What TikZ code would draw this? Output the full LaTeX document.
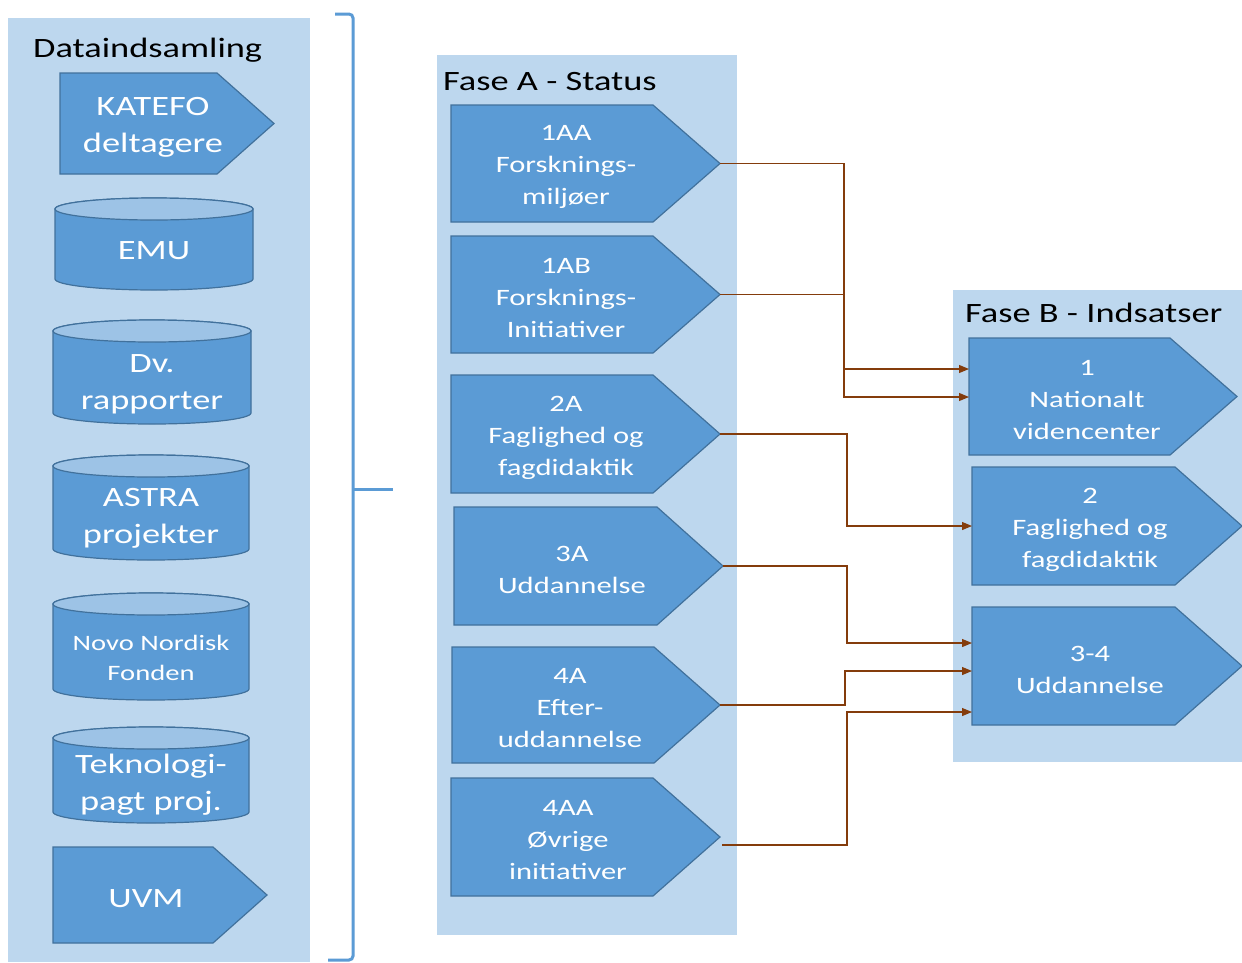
\documentclass[tikz,border=0pt]{standalone}
\usepackage{fontspec}
\setmainfont{Carlito}[FakeStretch=1.3]
\usetikzlibrary{arrows.meta,calc}
\definecolor{panelc}{HTML}{BDD7EE}
\definecolor{shapec}{HTML}{5B9BD5}
\definecolor{shapeb}{HTML}{41719C}
\definecolor{topc}{HTML}{9DC3E6}
\definecolor{connc}{RGB}{132,60,12}
\definecolor{brackc}{HTML}{5B9BD5}
\tikzset{
  panel/.style={fill=panelc, draw=none},
  shp/.style={fill=shapec, draw=shapeb, line width=1.2pt},
  shptop/.style={fill=topc, draw=shapeb, line width=1.2pt},
  boxtxt/.style={text=white, align=center, inner sep=0pt, yshift=-3.5pt},
  bigtxt/.style={boxtxt, font=\fontsize{28}{37}\selectfont},
  smalltxt/.style={boxtxt, font=\fontsize{22}{30}\selectfont},
  midtxt/.style={boxtxt, font=\fontsize{23.5}{32}\selectfont},
  ttl/.style={text=black, inner sep=0pt, anchor=base west, font=\fontsize{28}{34}\selectfont},
  conn/.style={draw=connc, line width=1.1pt, -{Triangle[length=10pt,width=8pt]}},
  brack/.style={draw=brackc, line width=3pt, rounded corners=4pt}
}
% pentagon: name, x1, y1, xbody, xtip, y2, textx, style, text
\newcommand\pent[9]{%
  \filldraw[shp] (#2,#3) -- (#4,#3) -- (#5,{(#3+#6)/2}) -- (#4,#6) -- (#2,#6) -- cycle;
  \coordinate (#1-tip) at (#5,{(#3+#6)/2});
  \coordinate (#1-in) at (#2,{(#3+#6)/2});
  \node[#8] (#1) at (#7,{(#3+#6)/2}) {#9};
}
% cylinder: name, x1, x2, ytop, ybot, textx, texty, style, text
\newcommand\cyl[9]{%
  \pgfmathsetmacro\cylcx{(#2+#3)/2}
  \pgfmathsetmacro\cylrx{(#3-#2)/2}
  \filldraw[shp] (#2,#4+11) -- (#2,#5-11) arc[start angle=180,end angle=0,x radius=\cylrx,y radius=11]
     -- (#3,#4+11) arc[start angle=0,end angle=-180,x radius=\cylrx,y radius=11] -- cycle;
  \filldraw[shptop] (\cylcx,#4+11) ellipse[x radius=\cylrx,y radius=11];
  \node[#8] (#1) at (#6,#7) {#9};
}
\begin{document}
\begin{tikzpicture}[x=1pt,y=-1pt]
\useasboundingbox (0,0) rectangle (1242,962);
\fill[white] (0,0) rectangle (1242,962);
% panels
\fill[panel] (8,18) rectangle (310,962);
\fill[panel] (437,55) rectangle (737,935);
\fill[panel] (953,290) rectangle (1242,762);
% titles
\node[ttl] (t1) at (33,57) {Dataindsamling};
\node[ttl] (t2) at (443,90) {Fase A - Status};
\node[ttl] (t3) at (965,322) {Fase B - Indsatser};
% left column
\pent{kat}{60}{73}{217}{274}{174}{153}{bigtxt}{KATEFO\\deltagere}
\cyl{emu}{55}{253}{198}{290}{154}{247}{bigtxt}{EMU}
\cyl{dv}{53}{251}{320}{424}{152}{381}{bigtxt}{Dv.\\rapporter}
\cyl{astra}{53}{249}{455}{560}{151}{515}{bigtxt}{ASTRA\\projekter}
\cyl{novo}{53}{249}{593}{700}{151}{654}{smalltxt}{Novo Nordisk\\Fonden}
\cyl{tek}{53}{249}{727}{823}{151}{781}{bigtxt}{Teknologi-\\pagt proj.}
\pent{uvm}{53}{847}{213}{267}{943}{146}{bigtxt}{UVM}
% bracket
\draw[brack] (335,14) -- (353,14) -- (353,960) -- (328,960);
\draw[brack] (353,489) -- (393,489);
% middle column
\pent{aa}{451}{105}{653}{720}{222}{566}{midtxt}{1AA\\Forsknings-\\miljøer}
\pent{ab}{451}{236}{653}{720}{353}{566}{midtxt}{1AB\\Forsknings-\\Initiativer}
\pent{atwo}{451}{375}{653}{720}{493}{566}{midtxt}{2A\\Faglighed og\\fagdidaktik}
\pent{athree}{454}{507}{657}{723}{625}{572}{midtxt}{3A\\Uddannelse}
\pent{afour}{452}{647}{654}{720}{763}{570}{midtxt}{4A\\Efter-\\uddannelse}
\pent{afourb}{451}{778}{653}{720}{896}{568}{midtxt}{4AA\\Øvrige\\initiativer}
% right column
\pent{bone}{969}{338}{1170}{1237}{455}{1087}{midtxt}{1\\Nationalt\\videncenter}
\pent{btwo}{972}{467}{1175}{1242}{585}{1090}{midtxt}{2\\Faglighed og\\fagdidaktik}
\pent{bthree}{972}{607}{1175}{1242}{725}{1090}{midtxt}{3-4\\Uddannelse}
% connectors
\draw[conn] (aa-tip) -- (844,163.5) -- (844,369) -- (bone-in |- 0,369);
\draw[conn] (ab-tip) -- (844,294.5) -- (844,397) -- (bone-in |- 0,397);
\draw[conn] (atwo-tip) -- (847,434) -- (847,526) -- (btwo-in);
\draw[conn] (athree-tip) -- (847,566) -- (847,643) -- (bthree-in |- 0,643);
\draw[conn] (afour-tip) -- (845,705) -- (845,671) -- (bthree-in |- 0,671);
\draw[conn] ($(afourb-tip)+(2,8)$) -- (847,845) -- (847,712) -- (bthree-in |- 0,712);
\end{tikzpicture}
\end{document}
